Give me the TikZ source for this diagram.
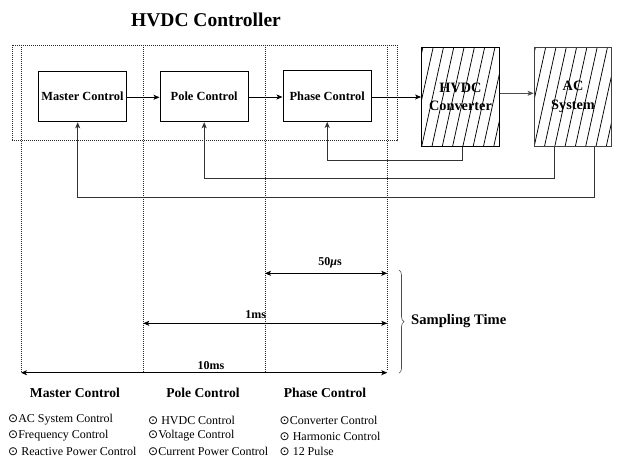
\documentclass[tikz,border=0pt]{standalone}
\usepackage{fontspec}
\setmainfont{Liberation Serif}
\newfontfamily\symfont{DejaVu Sans}
\usetikzlibrary{arrows.meta,decorations.pathreplacing}
\begin{document}
\begin{tikzpicture}[x=1pt,y=-1pt,
  box/.style={draw, line width=1pt, minimum width=88.4pt, minimum height=50.7pt, inner sep=0pt,
    font=\fontsize{12.4}{14}\selectfont\bfseries},
  hbox/.style={draw, line width=1pt, minimum width=77.8pt, minimum height=99.4pt, inner sep=0pt,
    align=center, font=\fontsize{14.3}{18.5}\selectfont\bfseries,
    path picture={\foreach \i in {-3,...,8}
      \draw[black, line width=0.75pt] ([xshift=\i*10.3pt]path picture bounding box.south west) -- ++(22,-100);}},
  arr/.style={-{Stealth[length=6pt,width=5pt,inset=1.5pt]}, line width=0.8pt},
  dimarr/.style={{Stealth[length=6pt,width=5pt,inset=1.5pt]}-{Stealth[length=6pt,width=5pt,inset=1.5pt]}, line width=0.8pt},
  dotline/.style={dash pattern=on 1pt off 1pt, line width=0.7pt, black!85},
  fb/.style={arr, black!80},
  lbl/.style={font=\fontsize{13.6}{16}\selectfont\bfseries, inner sep=0pt},
  dimlbl/.style={font=\fontsize{12}{14}\selectfont\bfseries, inner sep=0pt},
  item/.style={font=\fontsize{12}{14}\selectfont, anchor=west, inner sep=0pt}
]
\useasboundingbox (0,0) rectangle (617,459);

% title
\node[font=\fontsize{19.5}{22}\selectfont\bfseries, inner sep=0pt] (title) at (206,20) {HVDC Controller};

% dotted controller frame and dividers
\node[draw, dotline, minimum width=385pt, minimum height=95.7pt, inner sep=0pt] (frame) at (204.8,92.85) {};
\coordinate (t0) at (21,45);    \coordinate (b0) at (21,372.7);
\coordinate (t1) at (143.3,45); \coordinate (b1) at (143.3,372.7);
\coordinate (t2) at (265,45);   \coordinate (b2) at (265,372.7);
\coordinate (t3) at (387.5,45); \coordinate (b3) at (387.5,371);
\draw[dotline] (t0) -- (b0);
\draw[dotline] (t1) -- (b1);
\draw[dotline] (t2) -- (b2);
\draw[dotline] (t3) -- (b3);

% blocks
\node[box] (master) at (82.5,96.4) {Master Control};
\node[box] (pole) at (204.2,96.4) {Pole Control};
\node[box] (phase) at (327.2,96) {Phase Control};
\node[hbox] (hvdc) at (460.5,97) {HVDC\\Converter};
\node[hbox, draw=black!75] (ac) at (573,97) {AC\\System};

% forward arrows
\draw[arr] (master.east |- 0,97.3) -- (pole.west |- 0,97.3);
\draw[arr] (pole.east |- 0,97) -- (phase.west |- 0,97);
\draw[arr] (phase.east |- 0,97) -- (hvdc.west |- 0,97);
\draw[arr, black!70] (hvdc.east |- 0,93.3) -- (ac.west |- 0,93.3);

% feedback loops
\draw[fb] ([xshift=2.2pt]hvdc.south) -- ++(0,13.3) -| (phase.south);
\draw[fb] ([xshift=-18.7pt]ac.south) -- ++(0,31) -| (pole.south);
\draw[fb] ([xshift=21pt]ac.south) -- ++(0,50) -| ([xshift=-4.8pt]master.south);

% sampling time dimensions
\coordinate (a50l) at (265,273.3);   \coordinate (a50r) at (387.3,273.3);
\coordinate (a1l) at (143.3,323.3);  \coordinate (a1r) at (387.3,323.3);
\coordinate (a10l) at (21,372.7);    \coordinate (a10r) at (387.3,372.7);
\draw[dimarr] (a50l) -- (a50r);
\draw[dimarr] (a1l) -- (a1r);
\draw[dimarr] (a10l) -- (a10r);
\node[dimlbl] (l50) at (330,262.7) {50{\itshape μ}s};
\node[dimlbl] (l1) at (255.8,315) {1ms};
\node[dimlbl] (l10) at (211,366) {10ms};

\coordinate (br1) at (399,270);
\coordinate (br2) at (399,373.3);
\draw[decorate, decoration={brace, amplitude=5pt}, line width=0.6pt, black!70] (br1) -- (br2);
\node[font=\fontsize{14.6}{17}\selectfont\bfseries, anchor=west, inner sep=0pt] (samp) at (411,321) {Sampling Time};

% column headings
\node[lbl] (hm) at (75,393.3) {Master Control};
\node[lbl] (hp) at (203,393.3) {Pole Control};
\node[lbl] (hh) at (325,393.3) {Phase Control};

% lists
\node[item] (m1) at (8,420) {{\symfont ⊙}AC System Control};
\node[item] (m2) at (8,436) {{\symfont ⊙}Frequency Control};
\node[item] (m3) at (8,451.5) {{\symfont ⊙} Reactive Power Control};
\node[item] (p1) at (148,420) {{\symfont ⊙} HVDC Control};
\node[item] (p2) at (148,436) {{\symfont ⊙}Voltage Control};
\node[item] (p3) at (148,451.5) {{\symfont ⊙}Current Power Control};
\node[item] (h1) at (279.5,420) {{\symfont ⊙}Converter Control};
\node[item] (h2) at (279.5,436) {{\symfont ⊙} Harmonic Control};
\node[item] (h3) at (279.5,451.5) {{\symfont ⊙} 12 Pulse};
\end{tikzpicture}
\end{document}
